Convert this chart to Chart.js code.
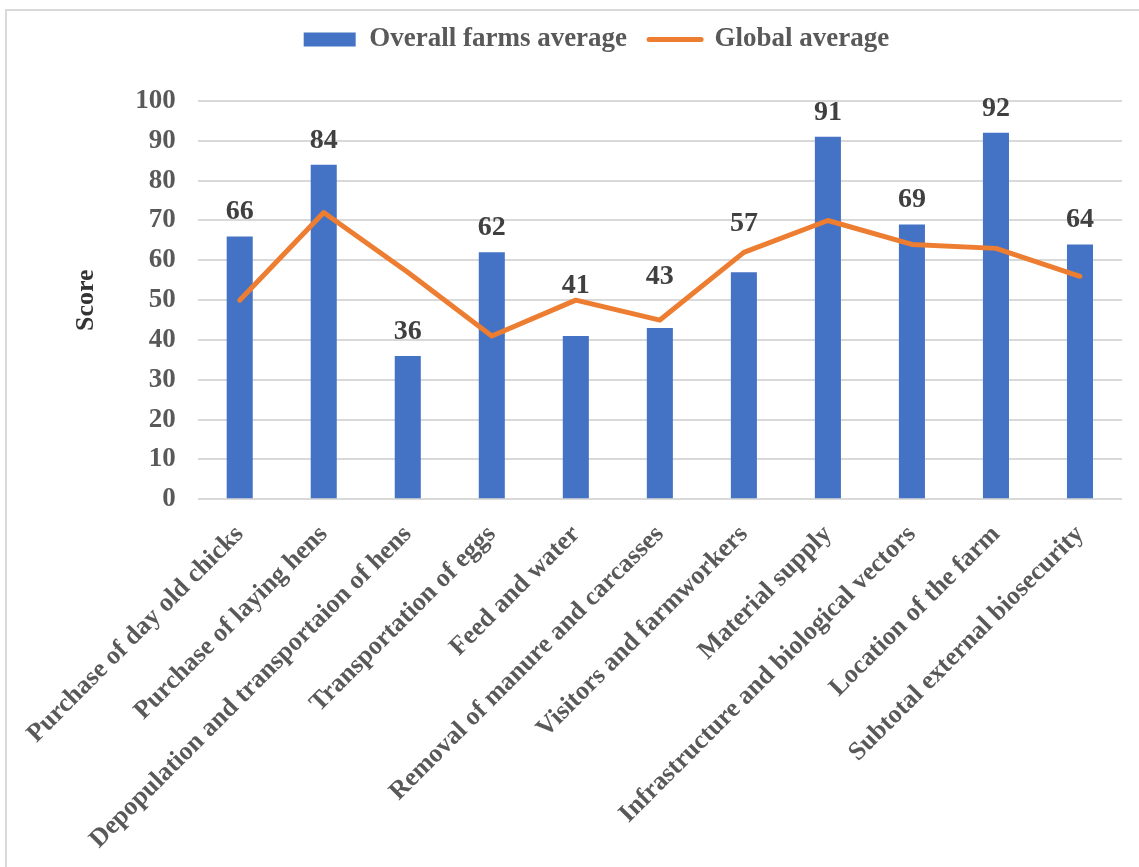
<!DOCTYPE html>
<html>
<head>
<meta charset="utf-8">
<script src="https://cdn.jsdelivr.net/npm/chart.js@4.4.1/dist/chart.umd.min.js"></script>
<style>
    html, body { margin: 0; padding: 0; background: #fff; }
    #frame {
        position: absolute; left: 5px; top: 9px;
        width: 1150px; height: 880px;
        border: 2px solid #d9d9d9;
    }
    #wrap { position: absolute; left: 0; top: 0; width: 1139px; height: 867px; }
</style>
</head>
<body>
<div id="frame"></div>
<div id="wrap"><canvas id="biosecChart"></canvas></div>
<script>
// ============ DONNÉES ============
const categories = [
    'Purchase of day old chicks',
    'Purchase of laying hens',
    'Depopulation and transportaion of hens',
    'Transportation of eggs',
    'Feed and water',
    'Removal of manure and carcasses',
    'Visitors and farmworkers',
    'Material supply',
    'Infrastructure and biological vectors',
    'Location of the farm',
    'Subtotal external biosecurity'
];
const farmsAverage = [66, 84, 36, 62, 41, 43, 57, 91, 69, 92, 64];
const globalAverage = [50, 72, 57, 41, 50, 45, 62, 70, 64, 63, 56];
const yTicks = [0, 10, 20, 30, 40, 50, 60, 70, 80, 90, 100];

// distance (px) between bar top and value label baseline
const labelLift = [17, 17, 17, 17, 43, 44, 41, 17, 17, 17, 17];

const SERIF = '"Liberation Serif", "Times New Roman", serif';
const BLUE = '#4472C4';
const ORANGE = '#ED7D31';

// valeurs au-dessus des barres
const valueLabels = {
    id: 'valueLabels',
    afterDatasetsDraw(chart) {
        const idx = chart.data.datasets.findIndex(d => d.type === 'bar');
        const meta = chart.getDatasetMeta(idx);
        const ctx = chart.ctx;
        ctx.save();
        ctx.font = 'bold 28px ' + SERIF;
        ctx.fillStyle = '#404040';
        ctx.textAlign = 'center';
        ctx.textBaseline = 'alphabetic';
        meta.data.forEach((bar, i) => {
            ctx.fillText(String(farmsAverage[i]), bar.x, bar.y - labelLift[i]);
        });
        ctx.restore();
    }
};

// un peu d'air sous la légende
const legendGap = {
    id: 'legendGap',
    beforeInit(chart) {
        const fit = chart.legend.fit;
        chart.legend.fit = function() {
            fit.bind(chart.legend)();
            this.height += 38;
        };
    }
};

function initChart() {
    const canvas = document.getElementById('biosecChart');
    new Chart(canvas.getContext('2d'), {
        type: 'bar',
        data: {
            labels: categories,
            datasets: [
                {
                    type: 'line',
                    label: 'Global average',
                    data: globalAverage,
                    borderColor: ORANGE,
                    backgroundColor: ORANGE,
                    borderWidth: 5,
                    borderCapStyle: 'round',
                    borderJoinStyle: 'round',
                    pointRadius: 0,
                    tension: 0,
                    order: 0
                },
                {
                    type: 'bar',
                    label: 'Overall farms average',
                    data: farmsAverage,
                    backgroundColor: BLUE,
                    barPercentage: 0.31,
                    categoryPercentage: 1,
                    order: 1
                }
            ]
        },
        options: {
            responsive: true,
            maintainAspectRatio: false,
            animation: false,
            layout: { padding: { left: 71, right: 17, top: 4, bottom: 0 } },
            plugins: {
                tooltip: { enabled: false },
                legend: {
                    position: 'top',
                    reverse: true,
                    labels: {
                        usePointStyle: true,
                        pointStyleWidth: 52,
                        boxHeight: 14,
                        padding: 22,
                        color: '#595959',
                        font: { family: SERIF, size: 27, weight: 'bold' },
                        generateLabels(chart) {
                            const items = Chart.defaults.plugins.legend.labels.generateLabels(chart);
                            items.forEach(it => {
                                if (it.text === 'Global average') {
                                    it.pointStyle = 'line';
                                    it.lineWidth = 5;
                                    it.lineCap = 'round';
                                } else {
                                    it.pointStyle = 'rect';
                                    it.lineWidth = 0;
                                }
                            });
                            return items;
                        }
                    }
                }
            },
            scales: {
                x: {
                    offset: true,
                    grid: { display: false },
                    border: { display: false },
                    ticks: {
                        autoSkip: false,
                        maxRotation: 45,
                        minRotation: 45,
                        labelOffset: 0,
                        padding: 12,
                        color: '#595959',
                        font: { family: SERIF, size: 26, weight: 'bold' }
                    }
                },
                y: {
                    min: 0,
                    max: 100,
                    afterBuildTicks(scale) {
                        scale.ticks = yTicks.map(v => ({ value: v }));
                    },
                    grid: { color: '#d9d9d9', lineWidth: 2, drawTicks: false },
                    border: { display: false },
                    ticks: {
                        padding: 22,
                        color: '#595959',
                        font: { family: SERIF, size: 27, weight: 'bold' }
                    },
                    title: {
                        display: true,
                        text: 'Score',
                        color: '#333333',
                        padding: { top: 0, bottom: 11 },
                        font: { family: SERIF, size: 26, weight: 'bold' }
                    }
                }
            }
        },
        plugins: [valueLabels, legendGap]
    });
}

window.onload = initChart;
</script>
</body>
</html>
